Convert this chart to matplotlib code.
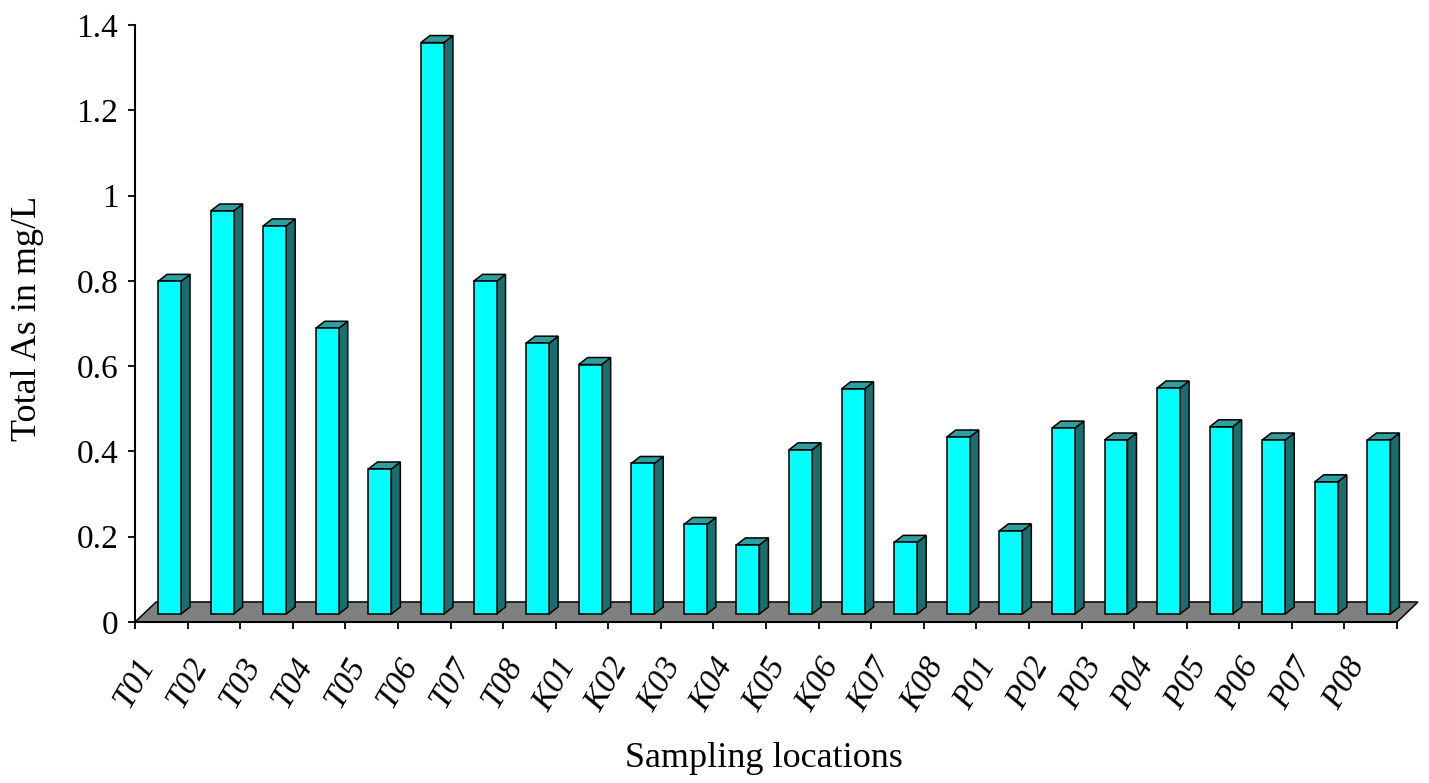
import matplotlib
matplotlib.use("Agg")
import matplotlib.pyplot as plt
from matplotlib.patches import Polygon

sites = ["T01", "T02", "T03", "T04", "T05", "T06", "T07", "T08",
         "K01", "K02", "K03", "K04", "K05", "K06", "K07", "K08",
         "P01", "P02", "P03", "P04", "P05", "P06", "P07", "P08"]
total_as = [0.78, 0.945, 0.91, 0.67, 0.34, 1.34, 0.78, 0.635,
            0.585, 0.353, 0.21, 0.162, 0.385, 0.528, 0.168, 0.415,
            0.195, 0.436, 0.408, 0.53, 0.439, 0.408, 0.31, 0.408]
y_ticks = [0, 0.2, 0.4, 0.6, 0.8, 1, 1.2, 1.4]
y_tick_labels = ["0", "0.2", "0.4", "0.6", "0.8", "1", "1.2", "1.4"]

plt.rcParams["font.family"] = ["Liberation Serif", "DejaVu Serif"]

fig = plt.figure(figsize=(14.29, 7.83), dpi=100)
ax = fig.add_axes([0.0945, 0.2056, 0.8831, 0.7625])
n = len(sites)
ax.set_xlim(0, n)
ax.set_ylim(0, 1.4)

# fake 3d: depth of the floor and of each bar, in data units
floor_dx, floor_dy = 0.40, 0.047
bar_off_x, bar_off_y = 0.156, 0.0188
bar_w = 0.437
side_dx, side_dy = 0.171, 0.0164

front_col = "#00FFFF"
side_col = "#1B6E6E"
top_col = "#2E9E9E"
lw = 1.1

floor = Polygon([(0, 0), (n, 0), (n + floor_dx, floor_dy), (floor_dx, floor_dy)],
                closed=True, facecolor="#808080", edgecolor="black", lw=lw,
                clip_on=False, zorder=1)
ax.add_patch(floor)

for i, v in enumerate(total_as):
    xl = i + 0.5 - bar_w / 2 + bar_off_x
    xr = xl + bar_w
    y0 = bar_off_y
    y1 = y0 + v
    side = Polygon([(xr, y0), (xr + side_dx, y0 + side_dy),
                    (xr + side_dx, y1 + side_dy), (xr, y1)],
                   closed=True, facecolor=side_col, edgecolor="black", lw=lw,
                   clip_on=False, zorder=2)
    top = Polygon([(xl, y1), (xr, y1), (xr + side_dx, y1 + side_dy),
                   (xl + side_dx, y1 + side_dy)],
                  closed=True, facecolor=top_col, edgecolor="black", lw=lw,
                  clip_on=False, zorder=2)
    front = Polygon([(xl, y0), (xr, y0), (xr, y1), (xl, y1)],
                    closed=True, facecolor=front_col, edgecolor="black", lw=lw,
                    clip_on=False, zorder=3)
    ax.add_patch(side)
    ax.add_patch(top)
    ax.add_patch(front)

for s in ["top", "right"]:
    ax.spines[s].set_visible(False)
ax.spines["left"].set_linewidth(1.5)
ax.spines["bottom"].set_linewidth(1.5)
ax.spines["left"].set_zorder(4)

ax.set_yticks(y_ticks, y_tick_labels, fontsize=24)
ax.tick_params(axis="y", direction="out", length=5, width=1.3, pad=7)

ax.set_xticks([i + 0.5 for i in range(n)], sites, rotation=60, ha="right",
              fontsize=24, fontstyle="italic")
ax.set_xticks(range(n + 1), minor=True)
ax.tick_params(axis="x", which="major", length=0, pad=22)
ax.tick_params(axis="x", which="minor", direction="out", length=5, width=1.3)

ax.set_xlabel("Sampling locations", fontsize=26)
ax.xaxis.set_label_coords(0.498, -0.228)
ax.xaxis.label.set_va("center")
ax.set_ylabel("Total As in mg/L", fontsize=26)
ax.yaxis.set_label_coords(-0.085, 0.509)
ax.yaxis.label.set_va("center")

fig.savefig("out.png", dpi=100, facecolor="white")
